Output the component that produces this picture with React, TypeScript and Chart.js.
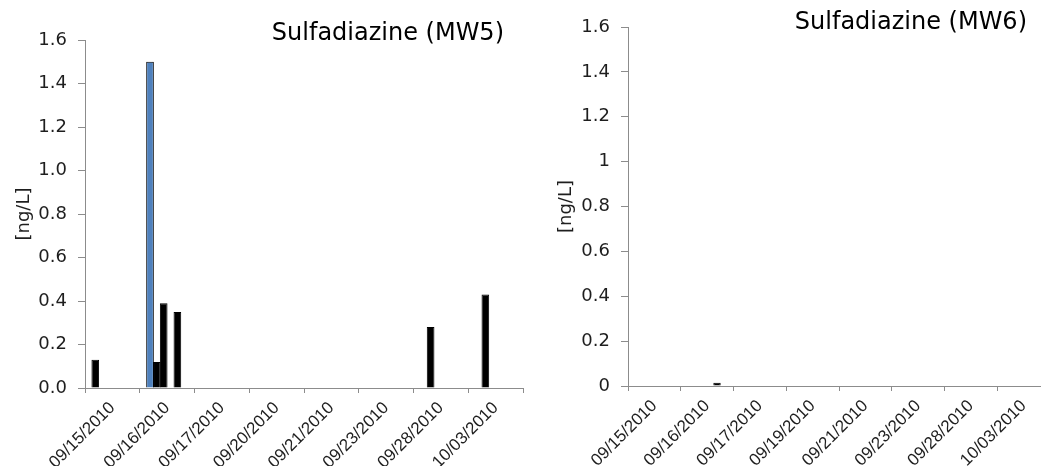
import React, { useEffect, useRef } from 'react';
import { Chart, registerables } from 'chart.js';

Chart.register(...registerables);

// ---------- data ----------
const datesMW5 = ['09/15/2010', '09/16/2010', '09/17/2010', '09/20/2010', '09/21/2010', '09/23/2010', '09/28/2010', '10/03/2010'];
const datesMW6 = ['09/15/2010', '09/16/2010', '09/17/2010', '09/19/2010', '09/21/2010', '09/23/2010', '09/28/2010', '10/03/2010'];

// six samples per sampling day, [ng/L]; null = no bar
const mw5Sample1 = [0.13, 1.5, null, null, null, null, null, null];
const mw5Sample2 = [null, 0.12, null, null, null, null, 0.28, 0.43];
const mw5Sample3 = [null, 0.39, null, null, null, null, null, null];
const mw5Sample4 = [null, null, null, null, null, null, null, null];
const mw5Sample5 = [null, 0.35, null, null, null, null, null, null];
const mw5Sample6 = [null, null, null, null, null, null, null, null];

const mw6Sample1 = [null, null, null, null, null, null, null, null];
const mw6Sample2 = [null, null, null, null, null, null, null, null];
const mw6Sample3 = [null, null, null, null, null, null, null, null];
const mw6Sample4 = [null, null, null, null, null, null, null, null];
const mw6Sample5 = [null, 0.015, null, null, null, null, null, null];
const mw6Sample6 = [null, null, null, null, null, null, null, null];

const yTickValues = [0, 0.2, 0.4, 0.6, 0.8, 1.0, 1.2, 1.4, 1.6];
const yTickLabelsMW5 = ['0.0', '0.2', '0.4', '0.6', '0.8', '1.0', '1.2', '1.4', '1.6'];
const yTickLabelsMW6 = ['0', '0.2', '0.4', '0.6', '0.8', '1', '1.2', '1.4', '1.6'];

const titleMW5 = 'Sulfadiazine (MW5)';
const titleMW6 = 'Sulfadiazine (MW6)';
const yAxisTitle = '[ng/L]';

// highlighted bar (sample 1 on 09/16/2010 in MW5)
const highlightSeries = 0;
const highlightIndex = 1;

// ---------- styles ----------
const FONT = '"DejaVu Sans", "Liberation Sans", Arial, sans-serif';
const XFONT = '"Liberation Sans", Arial, sans-serif';
const AXIS_GRAY = '#8c8c8c';
const TEXT = '#1e1e1e';
const BLUE = '#4f81bd';

const cornerTitle = {
  id: 'cornerTitle',
  afterDraw(chart: any, _args: any, opts: any) {
    const ctx = chart.ctx;
    ctx.save();
    ctx.font = `24px ${FONT}`;
    ctx.fillStyle = '#000';
    ctx.textAlign = 'right';
    ctx.textBaseline = 'alphabetic';
    ctx.fillText(opts.text, opts.x, opts.y);
    ctx.restore();
  },
};

function makeConfig(p: {
  labels: string[];
  series: (number | null)[][];
  highlight: boolean;
  yLabels: string[];
  title: string;
  titleX: number;
  titleY: number;
  yWidth: number;
  xHeight: number;
  padTop: number;
  padRight: number;
  yTitlePad: number;
}) {
  return {
    type: 'bar' as const,
    data: {
      labels: p.labels,
      datasets: p.series.map((s, si) => ({
        data: s,
        backgroundColor: s.map((_v, i) => (p.highlight && si === highlightSeries && i === highlightIndex ? BLUE : '#000')),
        borderColor: '#000',
        borderWidth: 1,
        borderSkipped: 'bottom',
        barPercentage: 1.12,
        categoryPercentage: 0.75,
      })),
    },
    options: {
      responsive: false,
      animation: false,
      events: [],
      layout: { padding: { top: p.padTop, right: p.padRight, bottom: 0, left: 0 } },
      plugins: {
        legend: { display: false },
        tooltip: { enabled: false },
        title: { display: false },
        cornerTitle: { text: p.title, x: p.titleX, y: p.titleY },
      },
      scales: {
        x: {
          offset: true,
          grid: { offset: true, drawOnChartArea: false, drawTicks: true, tickLength: 5, color: AXIS_GRAY, lineWidth: 1 },
          border: { color: AXIS_GRAY, width: 1 },
          ticks: {
            autoSkip: false,
            minRotation: 45,
            maxRotation: 45,
            padding: 5,
            color: TEXT,
            font: { family: XFONT, size: 17 },
          },
          afterFit: (s: any) => {
            s.height = p.xHeight;
          },
        },
        y: {
          min: 0,
          max: 1.6,
          afterBuildTicks: (s: any) => {
            s.ticks = yTickValues.map((v) => ({ value: v }));
          },
          grid: { drawOnChartArea: false, drawTicks: true, tickLength: 7, color: AXIS_GRAY, lineWidth: 1 },
          border: { color: AXIS_GRAY, width: 1 },
          ticks: {
            padding: 11,
            color: TEXT,
            font: { family: FONT, size: 18 },
            callback: (_v: any, i: number) => p.yLabels[i],
          },
          title: {
            display: true,
            text: yAxisTitle,
            color: TEXT,
            font: { family: FONT, size: 18 },
            padding: { top: p.yTitlePad, bottom: 0 },
          },
          afterFit: (s: any) => {
            s.width = p.yWidth;
          },
        },
      },
    },
    plugins: [cornerTitle],
  };
}

export default function App() {
  const leftRef = useRef<HTMLCanvasElement>(null);
  const rightRef = useRef<HTMLCanvasElement>(null);

  useEffect(() => {
    const left = new Chart(
      leftRef.current as HTMLCanvasElement,
      makeConfig({
        labels: datesMW5,
        series: [mw5Sample1, mw5Sample2, mw5Sample3, mw5Sample4, mw5Sample5, mw5Sample6],
        highlight: true,
        yLabels: yTickLabelsMW5,
        title: titleMW5,
        titleX: 504,
        titleY: 40,
        yWidth: 85,
        xHeight: 78,
        padTop: 40,
        padRight: 7,
        yTitlePad: 14,
      }) as any
    );
    const right = new Chart(
      rightRef.current as HTMLCanvasElement,
      makeConfig({
        labels: datesMW6,
        series: [mw6Sample1, mw6Sample2, mw6Sample3, mw6Sample4, mw6Sample5, mw6Sample6],
        highlight: false,
        yLabels: yTickLabelsMW6,
        title: titleMW6,
        titleX: 497,
        titleY: 29,
        yWidth: 98,
        xHeight: 80,
        padTop: 27,
        padRight: 10,
        yTitlePad: 26,
      }) as any
    );
    return () => {
      left.destroy();
      right.destroy();
    };
  }, []);

  return (
    <div
      style={{
        position: 'absolute',
        left: 0,
        top: 0,
        width: 1041,
        height: 466,
        overflow: 'hidden',
        background: '#fff',
      }}
    >
      <canvas ref={leftRef} width={530} height={466} style={{ position: 'absolute', left: 0, top: 0, width: 530, height: 466 }} />
      <canvas ref={rightRef} width={530} height={466} style={{ position: 'absolute', left: 530, top: 0, width: 530, height: 466 }} />
    </div>
  );
}
